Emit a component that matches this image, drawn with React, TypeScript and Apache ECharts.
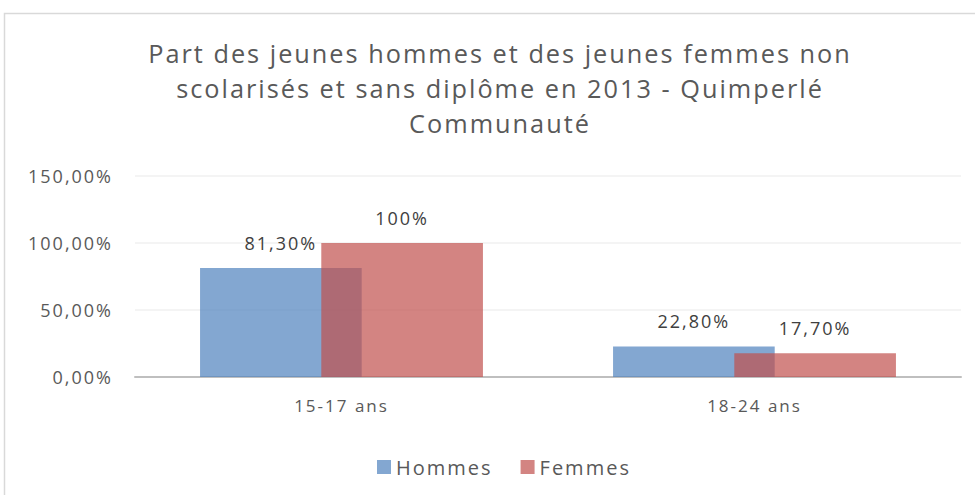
import React, { useEffect, useRef } from "react";
import * as echarts from "echarts";

const categories = ["15-17 ans", "18-24 ans"];
const hommes = [81.3, 22.8];
const femmes = [100, 17.7];
const hommesLabels = ["81,30%", "22,80%"];
const femmesLabels = ["100%", "17,70%"];
const seriesNames = ["Hommes", "Femmes"];
const titleLines = [
  "Part des jeunes hommes et des jeunes femmes non",
  "scolarisés et sans diplôme en 2013 - Quimperlé",
  "Communauté",
];
const yMin = 0;
const yMax = 150;
const yInterval = 50;

const FONT = "'Open Sans', 'Noto Sans', sans-serif";

export default function App() {
  const ref = useRef<HTMLDivElement>(null);
  useEffect(() => {
    if (!ref.current) return;
    const chart = echarts.init(ref.current, undefined, { renderer: "svg" });
    const fmtY = (v: number) => v.toFixed(2).replace(".", ",") + "%";
    chart.setOption({
      animation: false,
      backgroundColor: "#ffffff",
      textStyle: { fontFamily: FONT },
      graphic: [
        {
          type: "rect",
          shape: { x: 4.5, y: 13.5, width: 1100, height: 1100 },
          style: { fill: "none", stroke: "#d9d9d9", lineWidth: 1.5 },
          silent: true,
        },
        {
          type: "text",
          x: 500,
          y: 35,
          style: {
            text: titleLines.join("\n"),
            fill: "#595959",
            font: `25.3px ${FONT}`,
            align: "center",
            verticalAlign: "top",
            lineHeight: 35,
          },
        },
      ],
      legend: {
        data: seriesNames,
        left: 372,
        top: 452,
        itemWidth: 14,
        itemHeight: 14,
        itemGap: 40,
        icon: "rect",
        textStyle: { color: "#595959", fontSize: 20, fontFamily: FONT },
      },
      grid: { left: 135, right: 14, top: 176, bottom: 118, containLabel: false },
      xAxis: {
        type: "category",
        data: categories,
        axisLine: { lineStyle: { color: "#bfbfbf", width: 2 } },
        axisTick: { show: false },
        axisLabel: { color: "#595959", fontSize: 17, margin: 20, fontFamily: FONT },
      },
      yAxis: {
        type: "value",
        min: yMin,
        max: yMax,
        interval: yInterval,
        axisLine: { show: false },
        axisTick: { show: false },
        splitLine: { lineStyle: { color: "#f0f0f0", width: 1.5 } },
        axisLabel: {
          color: "#595959",
          fontSize: 18,
          margin: 22,
          fontFamily: FONT,
          formatter: fmtY,
        },
      },
      series: [
        {
          name: seriesNames[0],
          type: "bar",
          data: hommes,
          barGap: "-25%",
          barCategoryGap: "31.5%",
          itemStyle: { color: "rgba(79,129,189,0.7)" },
          label: {
            show: true,
            position: "top",
            distance: 16,
            color: "#404040",
            fontSize: 18,
            fontFamily: FONT,
            formatter: (p: any) => hommesLabels[p.dataIndex],
          },
        },
        {
          name: seriesNames[1],
          type: "bar",
          data: femmes,
          barGap: "-25%",
          barCategoryGap: "31.5%",
          itemStyle: { color: "rgba(192,80,77,0.7)" },
          label: {
            show: true,
            position: "top",
            distance: 16,
            color: "#404040",
            fontSize: 18,
            fontFamily: FONT,
            formatter: (p: any) => femmesLabels[p.dataIndex],
          },
        },
      ],
    });
    return () => chart.dispose();
  }, []);
  return (
    <div
      ref={ref}
      style={{
        position: "fixed",
        left: 0,
        top: 0,
        width: 975,
        height: 495,
        letterSpacing: "2px",
      }}
    />
  );
}
